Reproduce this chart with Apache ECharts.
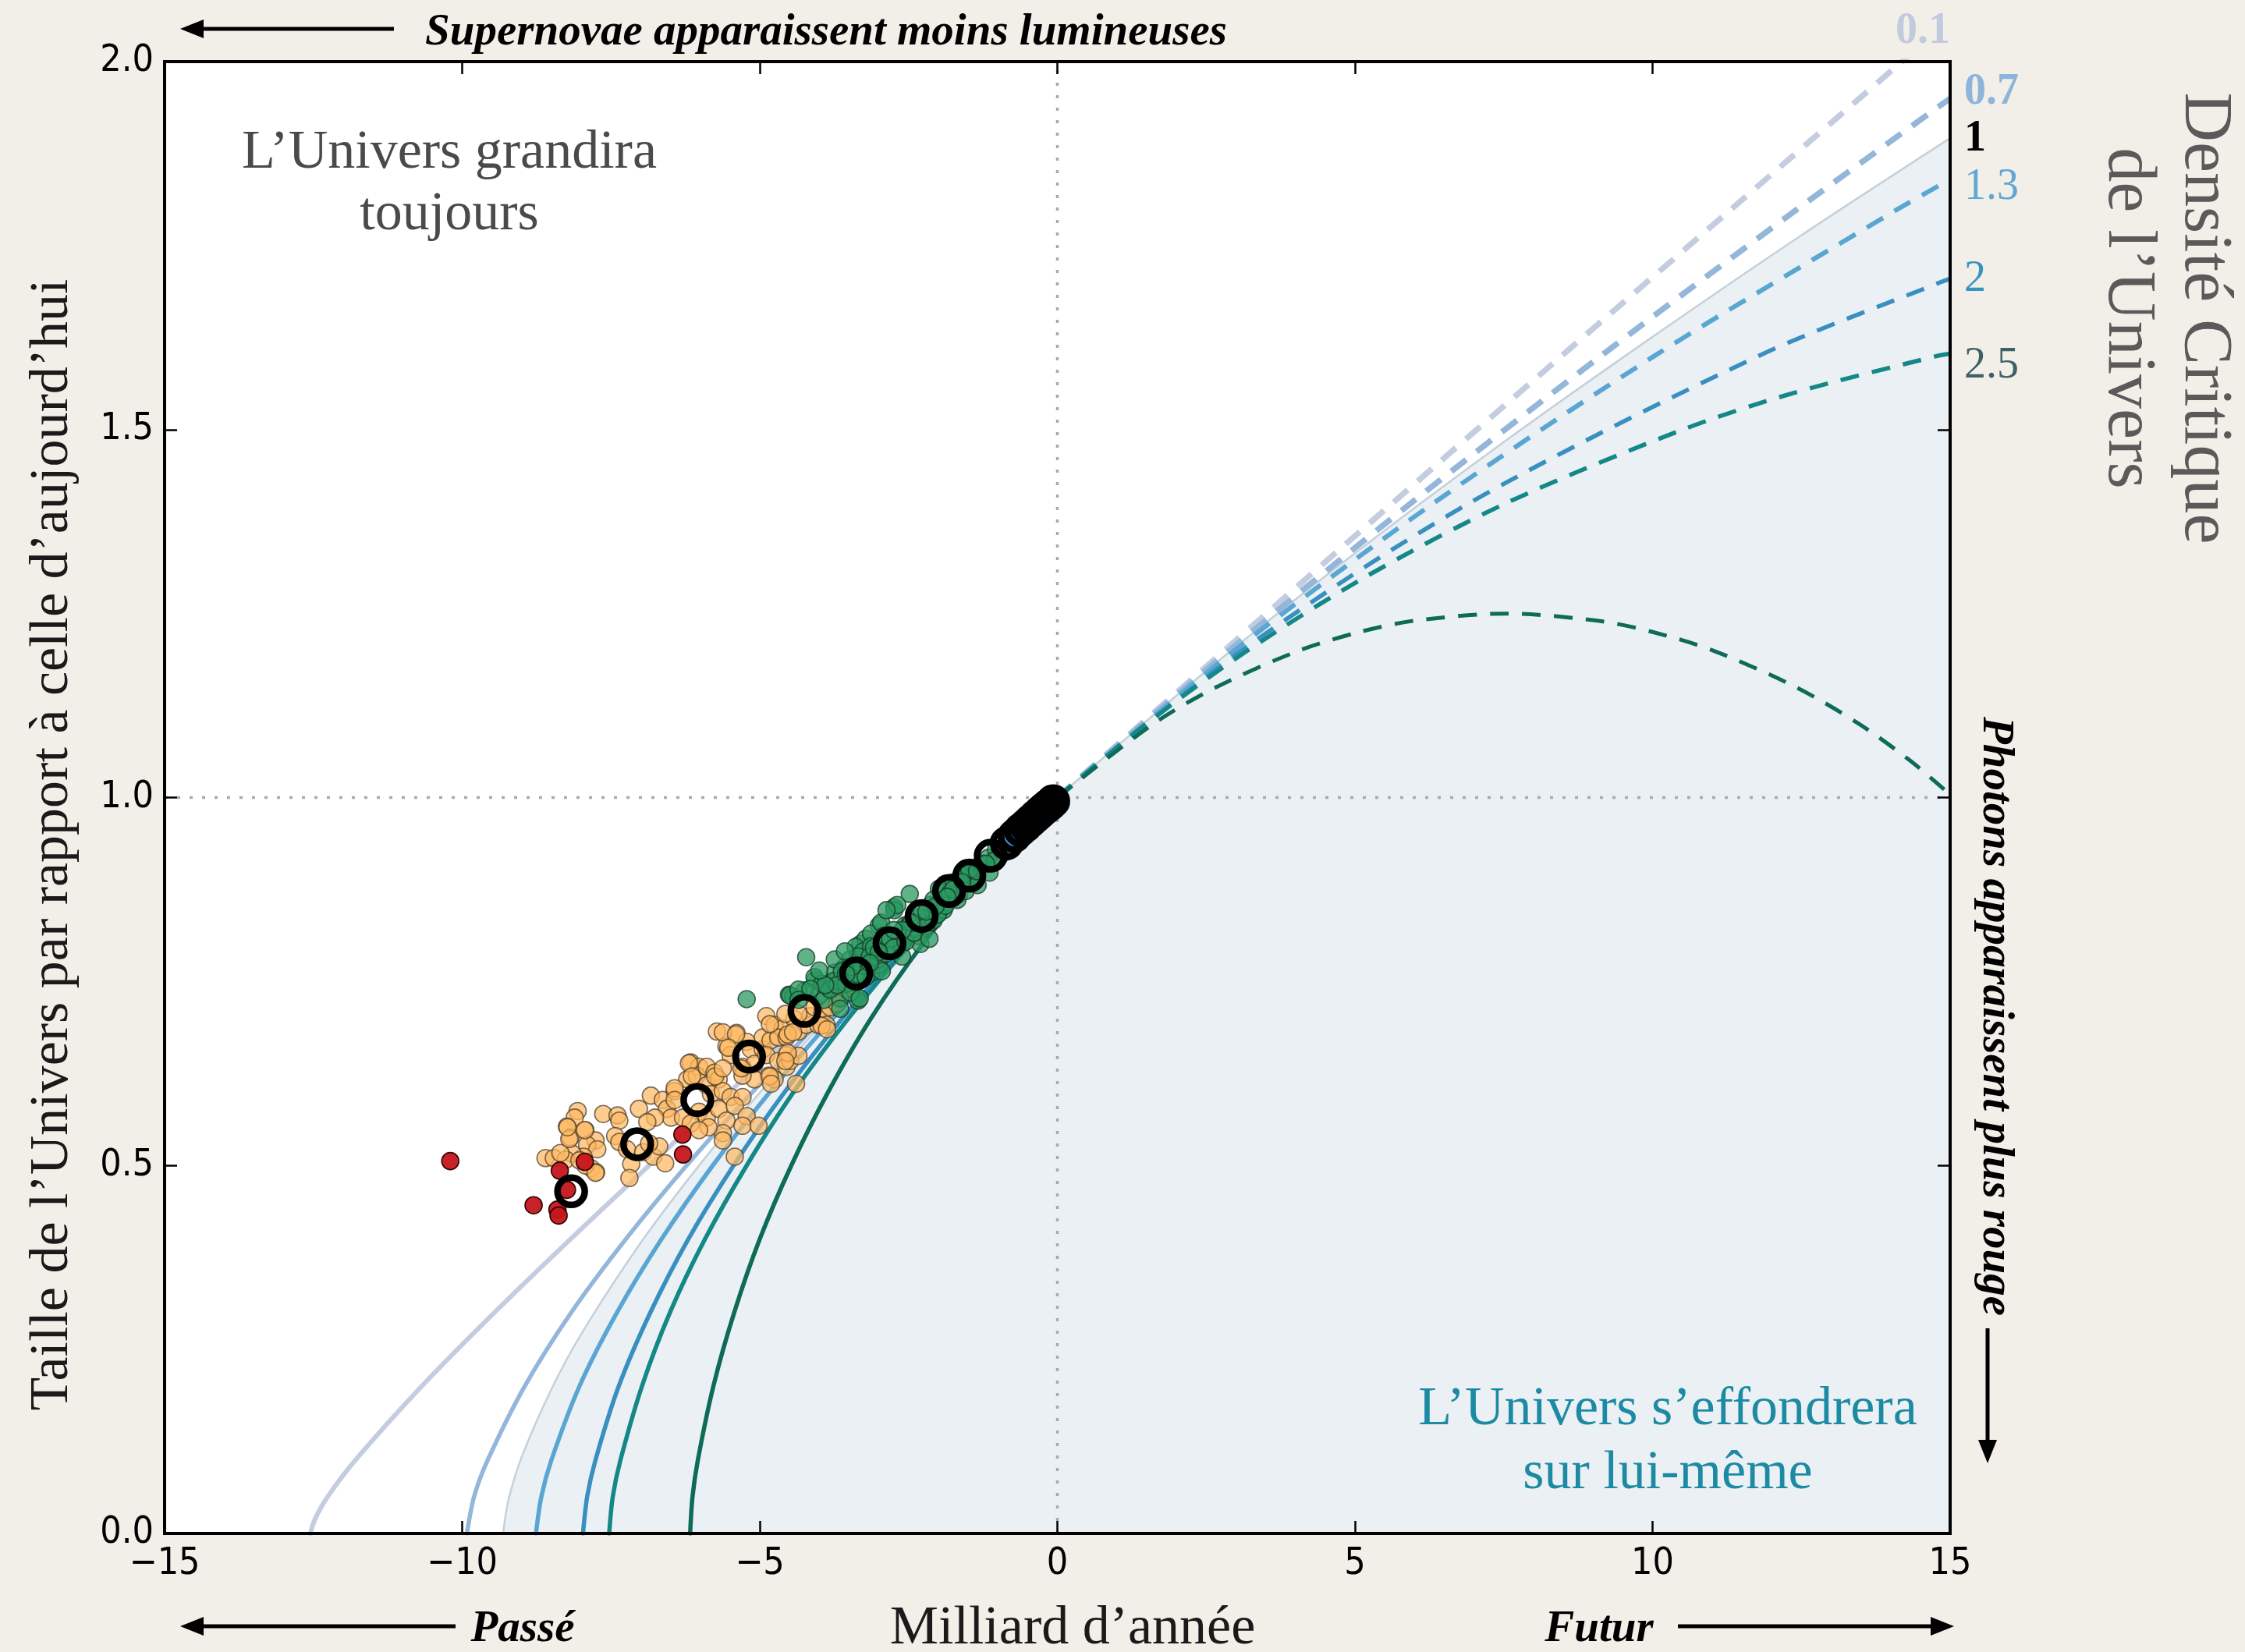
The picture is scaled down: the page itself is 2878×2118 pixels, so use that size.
<!DOCTYPE html>
<html>
<head>
<meta charset="utf-8">
<script src="https://cdn.jsdelivr.net/npm/echarts@6/dist/echarts.min.js"></script>
<style>
  html, body { margin: 0; padding: 0; background: #f2efe9; }
  #chart { width: 2878px; height: 2118px; }
</style>
</head>
<body>
<div id="chart"></div>
<script>
// Scale factor a(t) of matter-only universes, time in billions of years (0 = today).
// Past branches (solid) and future branches (dashed), one pair per density ratio.
const omega01Past = [[-12.55,0],[-12.47,0.02],[-12.26,0.05],[-11.79,0.1],[-10.68,0.2],[-9.46,0.3],[-8.18,0.4],[-6.86,0.5],[-5.51,0.6],[-4.15,0.7],[-2.78,0.8],[-1.39,0.9],[0,1]];
const omega01Future = [[0,1],[2.81,1.2],[5.63,1.4],[8.47,1.6],[11.33,1.8],[14.19,2.0],[14.9,2.05]];

const omega07Past = [[-9.92,0],[-9.80,0.05],[-9.57,0.1],[-8.95,0.2],[-8.17,0.3],[-7.25,0.4],[-6.23,0.5],[-5.12,0.6],[-3.94,0.7],[-2.69,0.8],[-1.37,0.9],[0,1]];
const omega07Future = [[0,1],[2.89,1.2],[5.94,1.4],[9.13,1.6],[12.44,1.8],[15,1.95]];

// Critical density: drawn as the boundary of the shaded region
const omega1 = [[-9.31,0],[-9.28,0.02],[-9.21,0.05],[-9.0,0.104],[-8.5,0.196],[-8,0.271],[-7,0.395],[-6,0.502],[-5,0.599],[-4,0.688],[-3,0.772],[-2,0.851],[-1,0.927],[0,1],[2.5,1.172],[5,1.332],[7.5,1.483],[10,1.626],[12.5,1.764],[15,1.896]];

const omega13Past = [[-8.76,0],[-8.67,0.05],[-8.50,0.1],[-8.03,0.2],[-7.40,0.3],[-6.65,0.4],[-5.79,0.5],[-4.83,0.6],[-3.77,0.7],[-2.60,0.8],[-1.35,0.9],[0,1]];
const omega13Future = [[0,1],[2.98,1.2],[6.32,1.4],[10.03,1.6],[14.13,1.8],[15,1.84]];

const omega2Past = [[-7.97,0],[-7.90,0.05],[-7.76,0.1],[-7.37,0.2],[-6.84,0.3],[-6.20,0.4],[-5.44,0.5],[-4.58,0.6],[-3.61,0.7],[-2.53,0.8],[-1.33,0.9],[0,1]];
const omega2Future = [[0,1],[3.10,1.2],[6.92,1.4],[11.78,1.6],[14.83,1.7],[15,1.705]];

const omega25Past = [[-7.53,0],[-7.47,0.05],[-7.34,0.1],[-6.98,0.2],[-6.51,0.3],[-5.92,0.4],[-5.22,0.5],[-4.43,0.6],[-3.51,0.7],[-2.48,0.8],[-1.32,0.9],[0,1]];
const omega25Future = [[0,1],[1.49,1.1],[3.20,1.2],[5.18,1.3],[7.54,1.4],[10.51,1.5],[12.38,1.55],[14.78,1.6],[15,1.603]];

const omega5Past = [[-6.17,0],[-6.13,0.05],[-6.04,0.1],[-5.78,0.2],[-5.43,0.3],[-5.00,0.4],[-4.47,0.5],[-3.85,0.6],[-3.13,0.7],[-2.27,0.8],[-1.25,0.9],[0,1]];
const omega5Future = [[0,1],[1.61,1.1],[2.67,1.15],[4.07,1.2],[5.08,1.225],[5.98,1.24],[7.54,1.25],[9.10,1.24],[10.00,1.225],[11.01,1.2],[12.41,1.15],[13.47,1.1],[14.33,1.05],[15,1.004]];

// Supernova measurements: [lookback time, relative size]
const redPoints = [[-10.20,0.506],[-8.36,0.493],[-7.94,0.505],[-8.24,0.467],[-8.80,0.446],[-8.40,0.440],[-8.38,0.432],[-6.30,0.542],[-6.29,0.515]];

const orangePoints = [
  [-8.06,0.574],[-8.11,0.565],[-8.24,0.553],[-8.18,0.538],[-7.93,0.548],[-7.76,0.534],[-7.90,0.528],[-7.73,0.522],[-7.96,0.512],[-8.15,0.516],
  [-8.60,0.510],[-8.46,0.510],[-8.26,0.508],[-7.83,0.496],[-7.75,0.491],[-7.93,0.500],[-8.03,0.507],[-8.35,0.517],[-8.20,0.536],[-8.23,0.552],
  [-7.94,0.548],[-7.76,0.490],
  [-7.63,0.570],[-7.39,0.568],[-7.36,0.561],[-7.03,0.577],[-6.83,0.595],[-6.63,0.589],[-6.56,0.577],[-6.43,0.601],[-6.49,0.565],[-6.76,0.565],
  [-6.89,0.559],[-7.43,0.540],[-7.36,0.532],[-7.23,0.522],[-6.96,0.518],[-6.79,0.512],[-7.16,0.502],[-7.19,0.483],[-6.59,0.503],[-6.69,0.526],[-6.86,0.530],
  [-6.16,0.640],[-6.02,0.634],[-6.22,0.617],[-6.06,0.622],[-5.89,0.634],[-5.76,0.626],[-5.89,0.609],[-5.69,0.617],[-5.82,0.597],[-5.62,0.601],
  [-5.49,0.593],[-6.02,0.573],[-5.89,0.565],[-5.69,0.577],[-5.56,0.561],[-5.62,0.544],[-5.86,0.552],[-5.29,0.593],[-5.42,0.581],[-5.22,0.567],
  [-5.29,0.554],[-5.02,0.554],[-5.62,0.534],[-6.43,0.605],[-6.43,0.589],[-6.29,0.565],[-6.16,0.557],[-6.02,0.548],[-5.42,0.512],[-4.39,0.611],
  [-5.72,0.682],[-5.39,0.680],[-5.56,0.662],[-5.22,0.668],[-5.15,0.658],[-5.49,0.650],[-5.29,0.634],[-5.09,0.638],[-4.95,0.658],[-4.95,0.674],
  [-4.82,0.670],[-4.89,0.650],[-4.69,0.642],[-4.55,0.650],[-4.75,0.617],[-4.85,0.622],[-4.55,0.634],[-4.49,0.642],[-5.09,0.617],[-5.29,0.622],
  [-4.89,0.703],[-4.75,0.691],[-4.62,0.686],[-4.69,0.674],[-4.55,0.674],[-4.42,0.699],[-4.35,0.682],[-4.22,0.691],[-4.15,0.703],[-4.08,0.715],
  [-3.95,0.707],[-3.88,0.691],[-4.02,0.691],[-3.82,0.715],[-3.62,0.735],
  [-4.83,0.692],[-4.53,0.678],[-4.44,0.681],[-4.57,0.706],[-4.35,0.706],[-3.96,0.690],[-3.87,0.685],[-3.74,0.734],[-4.35,0.649],[-4.53,0.653],
  [-4.57,0.642],[-4.83,0.621],[-4.81,0.611],[-5.62,0.681],[-5.40,0.678],[-5.53,0.660],[-6.19,0.639],[-6.14,0.621],[-5.75,0.621],[-5.62,0.632],
  [-5.31,0.632],[-3.70,0.720],[-3.55,0.740],[-3.45,0.745]
];

const greenPoints = [
  [-5.22,0.726],[-4.22,0.783],[-4.51,0.732],[-4.44,0.729],[-4.24,0.738],[-4.07,0.752],[-4.00,0.731],[-3.92,0.725],[-3.79,0.748],[-3.65,0.727],
  [-3.65,0.713],[-3.48,0.780],[-3.35,0.777],[-3.35,0.724],[-3.31,0.759],[-3.17,0.784],[-3.13,0.762],[-3.00,0.773],[-3.00,0.826],[-2.91,0.812],
  [-2.78,0.794],[-2.74,0.851],[-3.31,0.801],[-3.22,0.808],[-3.57,0.770],[-3.74,0.762],[-3.83,0.741],[-3.48,0.748],
  [-3.74,0.780],[-3.39,0.797],[-3.26,0.791],[-3.13,0.815],[-2.96,0.830],[-2.74,0.847],[-2.69,0.854],[-2.56,0.826],[-2.61,0.801],[-2.34,0.812],
  [-2.30,0.801],[-2.17,0.826],[-2.13,0.854],[-1.99,0.876],[-1.95,0.861],[-1.78,0.879],[-1.65,0.869],[-1.56,0.897],[-1.47,0.897],[-1.30,0.907],
  [-1.16,0.918],[-1.03,0.929],[-0.99,0.918],[-1.43,0.883],[-2.87,0.847],[-2.91,0.812],[-3.13,0.798],[-3.35,0.784],[-3.57,0.791],[-2.48,0.869],
  [-2.08,0.833],[-1.91,0.847],
  [-4.49,0.731],[-4.35,0.739],[-4.08,0.756],[-3.95,0.747],[-3.82,0.739],[-3.75,0.751],[-3.62,0.764],[-3.55,0.747],[-3.48,0.735],[-3.38,0.760],
  [-3.28,0.772],[-3.22,0.756],[-3.15,0.784],[-3.08,0.796],[-3.01,0.780],[-2.95,0.764],[-2.88,0.788],[-2.81,0.808],[-2.75,0.796],[-2.61,0.784],
  [-2.55,0.804],[-2.48,0.829],[-2.41,0.816],[-2.35,0.837],[-2.28,0.845],[-2.21,0.825],[-2.15,0.808],[-2.08,0.861],[-2.01,0.841],[-1.94,0.877],
  [-1.88,0.853],[-1.81,0.869],[-1.74,0.885],[-1.68,0.861],[-1.61,0.894],[-1.54,0.873],[-1.48,0.902],[-1.34,0.881],[-1.28,0.910],[-1.14,0.898],
  [-3.32,0.727],
  [-0.95,0.930],[-0.85,0.940],[-0.90,0.925],[-1.05,0.915],[-1.20,0.910],[-1.35,0.900],[-1.60,0.885],[-1.75,0.875],[-1.85,0.865],[-2.05,0.852],
  [-2.20,0.845],[-2.45,0.830],[-2.60,0.820],[-2.75,0.820],[-3.00,0.790],[-3.15,0.775],[-3.45,0.770],[-3.70,0.745],[-3.90,0.745],[-4.15,0.740],
  [-4.35,0.725],[-4.00,0.765],[-3.55,0.760]
];

const bluePoints = [[-0.95,0.932],[-0.85,0.936],[-0.77,0.943],[-0.70,0.949],[-0.64,0.957],[-0.58,0.958],[-0.50,0.964],[-0.44,0.970],[-0.38,0.972],[-0.32,0.977],[-0.25,0.980],[-0.20,0.985],[-0.14,0.989],[-0.09,0.993],[-0.04,0.996]];

// Binned averages of the measurements
const binnedMeans = [[-8.17,0.465],[-7.06,0.529],[-6.05,0.589],[-5.18,0.648],[-4.25,0.710],[-3.38,0.761],[-2.82,0.802],[-2.28,0.839],[-1.82,0.873],[-1.48,0.894],[-1.12,0.921],[-0.85,0.938],[-0.72,0.948],[-0.62,0.956],[-0.53,0.962],[-0.45,0.968],[-0.37,0.974],[-0.30,0.979],[-0.23,0.984],[-0.17,0.988],[-0.12,0.991],[-0.07,0.995]];

// Reference guides: today (x = 0) and present size (y = 1)
const todayLine = [[0,0],[0,2]];
const presentSizeLine = [[-15,1],[15,1]];

// Axis ticks
const xTicks = { min: -15, max: 15, interval: 5 };
const yTicks = { min: 0, max: 2, interval: 0.5 };

// Density labels on the right edge: [text, colour, bold, y position]
const densityLabels = [
  ['0.7', '#8db4da', true, 1.958],
  ['1',   '#000000', true, 1.895],
  ['1.3', '#5ea8d5', false, 1.829],
  ['2',   '#3993c2', false, 1.704],
  ['2.5', '#3e6168', false, 1.586]
];

const SERIF = '"Liberation Serif", "DejaVu Serif", serif';
const SANS = '"DejaVu Sans Condensed", "DejaVu Sans", sans-serif';

const chart = echarts.init(document.getElementById('chart'), null, { renderer: 'canvas' });

function pastLine(name, data, color, width) {
  return {
    name, type: 'line', data, smooth: 0.3, symbol: 'none',
    lineStyle: { color, width, cap: 'round' }, silent: true, z: 3
  };
}
function futureLine(name, data, color, width) {
  return {
    name, type: 'line', data, smooth: 0.3, symbol: 'none',
    lineStyle: { color, width, type: [24, 17] }, silent: true, z: 3
  };
}
function dots(name, data, size, style, z) {
  return { name, type: 'scatter', data, symbol: 'circle', symbolSize: size, itemStyle: style, silent: true, z };
}

const axisTickStyle = { show: true, inside: true, length: 16, lineStyle: { color: '#000', width: 2.5 } };
const hiddenLine = { show: false, onZero: false };

chart.setOption({
  animation: false,
  backgroundColor: '#f2efe9',
  grid: {
    left: 211, top: 79, width: 2289, height: 1887,
    show: true, backgroundColor: '#ffffff', borderColor: '#000000', borderWidth: 0
  },
  xAxis: [
    {
      type: 'value', position: 'bottom', min: xTicks.min, max: xTicks.max, interval: xTicks.interval, z: 12,
      axisLine: hiddenLine, splitLine: { show: false }, axisTick: axisTickStyle,
      axisLabel: {
        margin: 16, color: '#000', fontSize: 48, fontFamily: SANS,
        formatter: v => (v < 0 ? '\u2212' + (-v) : String(v))
      }
    },
    {
      type: 'value', position: 'top', min: xTicks.min, max: xTicks.max, interval: xTicks.interval, z: 12,
      axisLine: hiddenLine, splitLine: { show: false }, axisTick: axisTickStyle, axisLabel: { show: false }
    }
  ],
  yAxis: [
    {
      type: 'value', position: 'left', min: yTicks.min, max: yTicks.max, interval: yTicks.interval, z: 12,
      axisLine: hiddenLine, splitLine: { show: false }, axisTick: axisTickStyle,
      axisLabel: { margin: 14, color: '#000', fontSize: 48, fontFamily: SANS, formatter: v => v.toFixed(1) }
    },
    {
      type: 'value', position: 'right', min: yTicks.min, max: yTicks.max, interval: yTicks.interval, z: 12,
      axisLine: hiddenLine, splitLine: { show: false }, axisTick: axisTickStyle, axisLabel: { show: false }
    }
  ],
  series: [
    {
      name: 'critique', type: 'line', data: omega1, smooth: 0.3, symbol: 'none',
      lineStyle: { color: '#c5d0da', width: 2.5 },
      areaStyle: { color: '#ebf0f5', opacity: 1 }, silent: true, z: 1
    },
    {
      name: 'aujourdhui', type: 'line', data: todayLine, symbol: 'none', silent: true, z: 2,
      lineStyle: { color: '#a9a9a9', width: 3.5, type: [4, 12] }
    },
    {
      name: 'taille actuelle', type: 'line', data: presentSizeLine, symbol: 'none', silent: true, z: 2,
      lineStyle: { color: '#a9a9a9', width: 3.5, type: [4, 12] }
    },
    pastLine('0.1 passé', omega01Past, '#c4cce0', 6),
    pastLine('0.7 passé', omega07Past, '#93b6da', 5.5),
    pastLine('1.3 passé', omega13Past, '#5aa6d3', 5.5),
    pastLine('2 passé', omega2Past, '#3990c0', 5.5),
    pastLine('2.5 passé', omega25Past, '#138886', 5.5),
    pastLine('5 passé', omega5Past, '#0e6b58', 5.5),
    futureLine('0.1 futur', omega01Future, '#c4cce0', 7.5),
    futureLine('0.7 futur', omega07Future, '#93b6da', 7.5),
    futureLine('1.3 futur', omega13Future, '#5aa6d3', 6),
    futureLine('2 futur', omega2Future, '#3990c0', 5.5),
    futureLine('2.5 futur', omega25Future, '#138886', 5.5),
    futureLine('5 futur', omega5Future, '#0e6b58', 5),
    dots('orange', orangePoints, 22, { color: '#fdb863', opacity: 0.72, borderColor: '#4a3b2a', borderWidth: 1.6 }, 5),
    dots('vert', greenPoints, 22, { color: '#2b9a62', opacity: 0.75, borderColor: '#153826', borderWidth: 1.6 }, 6),
    dots('rouge', redPoints, 22, { color: '#c4161c', opacity: 0.95, borderColor: '#2a0000', borderWidth: 1.6 }, 7),
    dots('bleu', bluePoints, 20, { color: '#3b8fd9', opacity: 0.85, borderColor: '#0a2540', borderWidth: 1.5 }, 7),
    dots('moyennes', binnedMeans, 35, { color: 'rgba(0,0,0,0)', opacity: 1, borderColor: '#000000', borderWidth: 8.5 }, 8)
  ]
});

// Annotations around the plot
function text(x, y, str, font, fill, opts) {
  return Object.assign({
    type: 'text', x, y, silent: true, z: 20,
    style: { text: str, font, fill, textAlign: 'center', textVerticalAlign: 'middle' }
  }, opts || {});
}
function arrow(x1, y1, x2, y2) {
  // shaft from (x1,y1) to the tip (x2,y2), with a filled head at the tip
  const ang = Math.atan2(y2 - y1, x2 - x1);
  const headLen = 30, headHalf = 12;
  const bx = x2 - headLen * Math.cos(ang), by = y2 - headLen * Math.sin(ang);
  const px = -Math.sin(ang) * headHalf, py = Math.cos(ang) * headHalf;
  return [
    { type: 'line', silent: true, z: 20, shape: { x1, y1, x2: bx, y2: by }, style: { stroke: '#000', lineWidth: 5 } },
    { type: 'polygon', silent: true, z: 20, shape: { points: [[x2, y2], [bx + px, by + py], [bx - px, by - py]] }, style: { fill: '#000' } }
  ];
}

const graphics = [];
graphics.push(text(68, 1083, 'Taille de l\u2019Univers par rapport à celle d\u2019aujourd\u2019hui', '70px ' + SERIF, '#1a1a1a', { rotation: Math.PI / 2 }));
graphics.push(text(1375, 2089, 'Milliard d\u2019année', '70px ' + SERIF, '#1a1a1a'));
graphics.push(text(670, 2089, 'Passé', 'italic bold 57px ' + SERIF, '#000'));
graphics.push(text(2050, 2089, 'Futur', 'italic bold 57px ' + SERIF, '#000'));
graphics.push(text(1059, 42, 'Supernovae apparaissent moins lumineuses', 'italic bold 57px ' + SERIF, '#000'));
graphics.push(text(2558, 1303, 'Photons apparaissent plus rouge', 'italic bold 57px ' + SERIF, '#000', { rotation: -Math.PI / 2 }));
graphics.push(text(2776, 408, 'Densité Critique\nde l\u2019Univers', '88px ' + SERIF, '#5a5a5a', { rotation: -Math.PI / 2 }));
graphics[graphics.length - 1].style.lineHeight = 98;
graphics.push(text(576, 236, 'L\u2019Univers grandira\ntoujours', '70px ' + SERIF, '#4a4a4a'));
graphics[graphics.length - 1].style.lineHeight = 79;
graphics.push(text(2138, 1849, 'L\u2019Univers s\u2019effondrera\nsur lui-même', '70px ' + SERIF, '#1d8aa3'));
graphics[graphics.length - 1].style.lineHeight = 82;

graphics.push(...arrow(505, 37, 231, 37));
graphics.push(...arrow(584, 2085, 231, 2085));
graphics.push(...arrow(2151, 2085, 2505, 2085));
graphics.push(...arrow(2548, 1703, 2548, 1876));

// Plot frame drawn above the shaded region
const c0 = chart.convertToPixel({ gridIndex: 0 }, [xTicks.min, yTicks.max]);
const c1 = chart.convertToPixel({ gridIndex: 0 }, [xTicks.max, yTicks.min]);
graphics.push({
  type: 'rect', silent: true, z: 15,
  shape: { x: c0[0], y: c0[1], width: c1[0] - c0[0], height: c1[1] - c0[1] },
  style: { fill: 'none', stroke: '#000', lineWidth: 4 }
});

// Density labels positioned from the plot's own scale
const topLabel = chart.convertToPixel({ gridIndex: 0 }, [15, 2.041]);
graphics.push({
  type: 'text', x: topLabel[0], y: topLabel[1], silent: true, z: 20,
  style: { text: '0.1', font: 'bold 56px ' + SERIF, fill: '#c2cadf', textAlign: 'right', textVerticalAlign: 'middle' }
});
densityLabels.forEach(([label, color, bold, yv]) => {
  const p = chart.convertToPixel({ gridIndex: 0 }, [15, yv]);
  graphics.push({
    type: 'text', x: p[0] + 18, y: p[1], silent: true, z: 20,
    style: { text: label, font: (bold ? 'bold ' : '') + '56px ' + SERIF, fill: color, textAlign: 'left', textVerticalAlign: 'middle' }
  });
});

chart.setOption({ graphic: graphics });
</script>
</body>
</html>
